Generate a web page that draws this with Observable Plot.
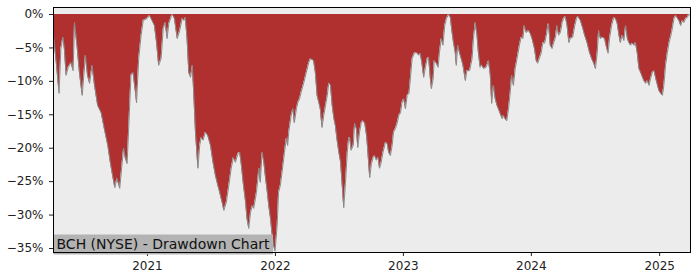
<!DOCTYPE html>
<html>
<head>
<meta charset="utf-8">
<script src="https://cdn.jsdelivr.net/npm/d3@7"></script>
<script src="https://cdn.jsdelivr.net/npm/@observablehq/plot@0.6"></script>
<style>
  html, body { margin: 0; padding: 0; background: #ffffff; }
  #chart { width: 700px; height: 280px; }
</style>
</head>
<body>
<div id="chart"></div>
<script>
const chartTitle = "BCH (NYSE) - Drawdown Chart";
const yTicks = [0, -5, -10, -15, -20, -25, -30, -35];
const xTickYears = ["2021-01-01", "2022-01-01", "2023-01-01", "2024-01-01", "2025-01-01"];

const dates = [
"2020-04-08","2020-04-16","2020-04-24","2020-04-29","2020-05-05","2020-05-09","2020-05-14","2020-05-20","2020-05-28","2020-06-03",
"2020-06-07","2020-06-14","2020-06-21","2020-06-29","2020-07-08","2020-07-14","2020-07-20","2020-07-27","2020-08-03","2020-08-12",
"2020-08-22","2020-08-31","2020-09-10","2020-09-17","2020-09-25","2020-09-30","2020-10-06","2020-10-14","2020-10-21","2020-10-25",
"2020-10-30","2020-11-04","2020-11-08","2020-11-15","2020-11-21","2020-11-28","2020-12-01","2020-12-07","2020-12-14","2020-12-20",
"2020-12-31",
"2021-01-07","2021-01-14","2021-01-21","2021-01-27","2021-02-02","2021-02-09","2021-02-15","2021-02-21","2021-02-26","2021-03-03",
"2021-03-10","2021-03-13","2021-03-19","2021-03-27","2021-04-03","2021-04-10","2021-04-15","2021-04-19","2021-04-24","2021-04-29",
"2021-05-04","2021-05-09","2021-05-13","2021-05-18","2021-05-25","2021-05-30","2021-06-03","2021-06-09","2021-06-15","2021-06-22",
"2021-06-30","2021-07-07","2021-07-14","2021-07-21","2021-07-26","2021-08-02","2021-08-07","2021-08-14","2021-08-21","2021-08-28",
"2021-09-03","2021-09-09","2021-09-16","2021-09-21","2021-09-25","2021-10-01","2021-10-08","2021-10-12","2021-10-17","2021-10-22",
"2021-10-27","2021-10-31","2021-11-08","2021-11-15","2021-11-19","2021-11-24","2021-11-29","2021-12-04","2021-12-09","2021-12-13",
"2021-12-18","2021-12-23","2021-12-27","2021-12-31",
"2022-01-06","2022-01-10","2022-01-15","2022-01-20","2022-01-27","2022-02-01","2022-02-05","2022-02-08","2022-02-15","2022-02-20",
"2022-02-24","2022-03-02","2022-03-06","2022-03-11","2022-03-15","2022-03-23","2022-03-30","2022-04-06","2022-04-11","2022-04-20",
"2022-04-25","2022-04-30","2022-05-05","2022-05-09","2022-05-14","2022-05-19","2022-05-24","2022-05-29","2022-06-02","2022-06-07",
"2022-06-12","2022-06-17","2022-06-21","2022-06-26","2022-07-01","2022-07-06","2022-07-10","2022-07-15","2022-07-20","2022-07-25",
"2022-07-29","2022-08-01","2022-08-05","2022-08-11","2022-08-15","2022-08-20","2022-08-24","2022-08-29","2022-09-03","2022-09-08",
"2022-09-13","2022-09-18","2022-09-21","2022-09-27","2022-10-02","2022-10-07","2022-10-11","2022-10-16","2022-10-21","2022-10-25",
"2022-10-29","2022-11-04","2022-11-11","2022-11-16","2022-11-20","2022-11-25","2022-11-30","2022-12-04","2022-12-09","2022-12-14",
"2022-12-19","2022-12-24","2022-12-28",
"2023-01-02","2023-01-07","2023-01-12","2023-01-17","2023-01-21","2023-01-26","2023-02-01","2023-02-07","2023-02-14","2023-02-18",
"2023-02-23","2023-02-28","2023-03-05","2023-03-10","2023-03-14","2023-03-19","2023-03-22","2023-03-27","2023-03-30","2023-04-05",
"2023-04-10","2023-04-14","2023-04-19","2023-04-24","2023-04-29","2023-05-04","2023-05-10","2023-05-15","2023-05-20","2023-05-24",
"2023-05-29","2023-06-01","2023-06-05","2023-06-10","2023-06-15","2023-06-20","2023-06-27","2023-07-01","2023-07-09","2023-07-16",
"2023-07-20","2023-07-25","2023-07-30","2023-08-03","2023-08-08","2023-08-13","2023-08-18","2023-08-25","2023-09-01","2023-09-06",
"2023-09-10","2023-09-15","2023-09-20","2023-09-25","2023-09-29","2023-10-04","2023-10-10","2023-10-13","2023-10-18","2023-10-23",
"2023-10-28","2023-11-01","2023-11-06","2023-11-11","2023-11-16","2023-11-22","2023-11-28","2023-12-03","2023-12-08","2023-12-12",
"2023-12-17","2023-12-24","2023-12-29",
"2024-01-03","2024-01-10","2024-01-15","2024-01-19","2024-01-25","2024-01-29","2024-02-03","2024-02-08","2024-02-13","2024-02-17",
"2024-02-19","2024-02-24","2024-02-29","2024-03-05","2024-03-10","2024-03-14","2024-03-19","2024-03-24","2024-03-29","2024-04-02",
"2024-04-07","2024-04-12","2024-04-17","2024-04-21","2024-04-28","2024-05-04","2024-05-09","2024-05-13","2024-05-20","2024-05-27",
"2024-06-01","2024-06-08","2024-06-15","2024-06-21","2024-06-27","2024-07-02","2024-07-07","2024-07-11","2024-07-16","2024-07-21",
"2024-07-28","2024-08-01","2024-08-07","2024-08-11","2024-08-17","2024-08-23","2024-08-28","2024-09-02","2024-09-07","2024-09-11",
"2024-09-16","2024-09-21","2024-09-26","2024-10-01","2024-10-05","2024-10-10","2024-10-15","2024-10-20","2024-10-24","2024-10-29",
"2024-11-03","2024-11-08","2024-11-13","2024-11-17","2024-11-22","2024-11-27","2024-12-02","2024-12-06","2024-12-11","2024-12-16",
"2024-12-21","2024-12-26","2024-12-30",
"2025-01-04","2025-01-09","2025-01-13","2025-01-18","2025-01-23","2025-01-28","2025-02-04","2025-02-11","2025-02-16","2025-02-21",
"2025-02-25","2025-03-02","2025-03-07","2025-03-11","2025-03-16","2025-03-21","2025-03-25","2025-03-30"
];

const drawdown = [
-3.1,-7.2,-11.8,-5.1,-3.4,-5.1,-9.1,-7.9,-7.2,-8.4,
-1.2,-4.6,-8.7,-12.1,-6.1,-9.1,-10.3,-7.6,-10.6,-13.6,
-14.7,-17.1,-19.6,-22.1,-24.5,-25.9,-24.5,-26.0,-22.1,-20.0,
-21.5,-22.3,-17.6,-9.1,-8.7,-11.7,-13.2,-6.6,-3.1,-0.9,
-0.6,
-0.15,-0.9,-1.65,-4.2,-7.6,-6.6,-2.1,-1.2,-3.6,-1.35,
-0.3,0,-0.6,-3.6,-2.4,-0.6,-0.9,-0.45,-3.6,-8.7,
-9.4,-7.6,-11.7,-17.6,-23.0,-19.6,-18.4,-18.8,-17.6,-18.1,
-19.6,-22.1,-24.1,-25.6,-26.6,-28.1,-29.3,-28.1,-25.6,-23.0,
-21.4,-22.1,-20.8,-20.6,-22.1,-25.1,-28.1,-30.5,-32.0,-29.6,
-28.6,-29.0,-26.6,-23.0,-25.1,-20.6,-22.1,-24.5,-26.6,-28.6,
-30.5,-33.1,-34.6,-35.4,
-31.6,-26.6,-25.6,-23.6,-20.6,-18.5,-19.6,-17.6,-15.1,-14.1,
-16.2,-14.1,-13.2,-12.6,-11.7,-10.2,-8.7,-7.2,-6.6,-6.9,
-8.7,-12.1,-13.2,-14.1,-16.9,-15.1,-13.6,-12.1,-10.3,-10.5,
-13.6,-15.6,-16.6,-18.8,-20.6,-22.1,-25.1,-28.9,-25.1,-20.6,
-18.5,-18.4,-20.3,-19.6,-16.3,-17.1,-19.9,-17.6,-16.2,-15.9,
-16.3,-18.1,-20.0,-24.4,-22.3,-21.4,-21.1,-21.8,-21.4,-23.0,
-22.3,-20.6,-19.1,-19.3,-20.6,-21.1,-19.6,-17.6,-17.1,-16.3,
-15.1,-14.7,-13.2,
-12.6,-14.1,-12.1,-11.8,-9.6,-6.6,-5.8,-5.7,-6.1,-5.8,
-7.3,-9.4,-7.9,-6.6,-6.4,-9.6,-11.1,-9.6,-6.9,-7.3,
-7.9,-5.7,-3.6,-4.6,-1.65,-0.6,0,-0.45,-2.7,-4.2,
-5.7,-7.6,-4.6,-5.7,-6.6,-7.6,-9.9,-8.4,-8.4,-6.6,
-3.6,-1.2,-3.1,-5.7,-7.9,-7.6,-8.1,-7.9,-6.9,-9.1,
-13.3,-10.6,-12.6,-13.6,-14.1,-14.8,-15.6,-15.1,-15.6,-15.9,
-14.1,-12.1,-9.1,-10.6,-8.1,-6.4,-4.6,-3.4,-3.6,-1.65,
-2.7,-2.4,-2.85,
-3.6,-5.1,-6.9,-7.3,-6.4,-5.8,-4.2,-4.3,-3.1,-1.65,
-1.35,-4.6,-5.1,-4.2,-3.4,-1.65,-3.1,-2.7,-1.2,-0.6,
-0.3,-1.65,-4.2,-3.6,-3.4,-1.65,-0.6,-0.3,-0.9,-2.1,
-3.1,-4.2,-5.7,-6.6,-7.3,-8.1,-5.7,-2.4,-3.6,-3.4,
-3.6,-4.6,-5.8,-3.6,-1.65,-0.45,-0.6,-1.35,-3.1,-4.2,
-3.1,-3.9,-1.65,-3.6,-4.2,-4.6,-4.3,-4.6,-4.2,-5.7,
-8.1,-8.7,-9.4,-9.9,-10.3,-9.9,-10.6,-9.6,-8.7,-8.4,
-9.6,-10.6,-11.4,
-11.8,-12.1,-10.6,-7.6,-5.7,-4.2,-2.7,-0.6,-0.15,-0.6,
-0.9,-1.65,-0.9,-1.2,-0.6,-0.45,0,-0.1
];

const parse = d3.utcParse("%Y-%m-%d");
const data = dates.map((d, i) => ({date: parse(d), dd: drawdown[i]}));

const fmtPct = d => d === 0 ? "0%" : "\u2212" + Math.abs(d) + "%";

const plot = Plot.plot({
  width: 700,
  height: 280,
  marginLeft: 53,
  marginRight: 10,
  marginTop: 7,
  marginBottom: 28,
  style: {fontFamily: "DejaVu Sans", fontSize: "12px", color: "#222", background: "#ffffff"},
  x: {
    type: "utc",
    domain: [parse("2020-04-08"), parse("2025-03-30")],
    ticks: xTickYears.map(parse),
    tickFormat: d3.utcFormat("%Y"),
    tickSize: 4,
    tickPadding: 5,
    label: null
  },
  y: {
    domain: [-35.6, 1.05],
    ticks: yTicks,
    tickFormat: fmtPct,
    tickSize: 4,
    tickPadding: 6,
    label: null
  },
  marks: [
    Plot.frame({fill: "#ececec", stroke: null}),
    Plot.areaY(data, {x: "date", y1: 0, y2: "dd", fill: "#b03030", curve: "linear", clip: true}),
    Plot.lineY(data, {x: "date", y: "dd", stroke: "#8a8a8a", strokeWidth: 1, clip: true}),
    Plot.text([chartTitle], {frameAnchor: "bottom-left", dx: 3, dy: -4, text: d => d, fill: "#111", fontSize: 14, textAnchor: "start", lineAnchor: "bottom", className: "ttl"}),
    Plot.frame({stroke: "#000", strokeWidth: 1})
  ]
});

document.getElementById("chart").appendChild(plot);

// grey label box behind the title, sized from the text's measured extent,
// flush with the frame's left and bottom edges
const ttlText = plot.querySelector("g.ttl text") || plot.querySelector(".ttl text");
if (ttlText) {
  const svgBox = plot.getBoundingClientRect();
  const tb = ttlText.getBoundingClientRect();
  const frameEl = plot.querySelector('[aria-label="frame"]:last-of-type rect') || plot.querySelector('[aria-label="frame"] rect');
  const fb = frameEl ? frameEl.getBoundingClientRect() : null;
  const left = fb ? fb.left - svgBox.left : tb.left - svgBox.left - 3;
  const bottom = fb ? fb.bottom - svgBox.top : tb.bottom - svgBox.top + 3;
  const top = tb.top - svgBox.top - 1;
  const right = tb.right - svgBox.left + 3;
  const rect = document.createElementNS("http://www.w3.org/2000/svg", "rect");
  rect.setAttribute("x", left);
  rect.setAttribute("y", top);
  rect.setAttribute("width", right - left);
  rect.setAttribute("height", bottom - top);
  rect.setAttribute("fill", "#b3b3b3");
  const g = ttlText.parentNode;
  g.parentNode.insertBefore(rect, g);
}
</script>
</body>
</html>
